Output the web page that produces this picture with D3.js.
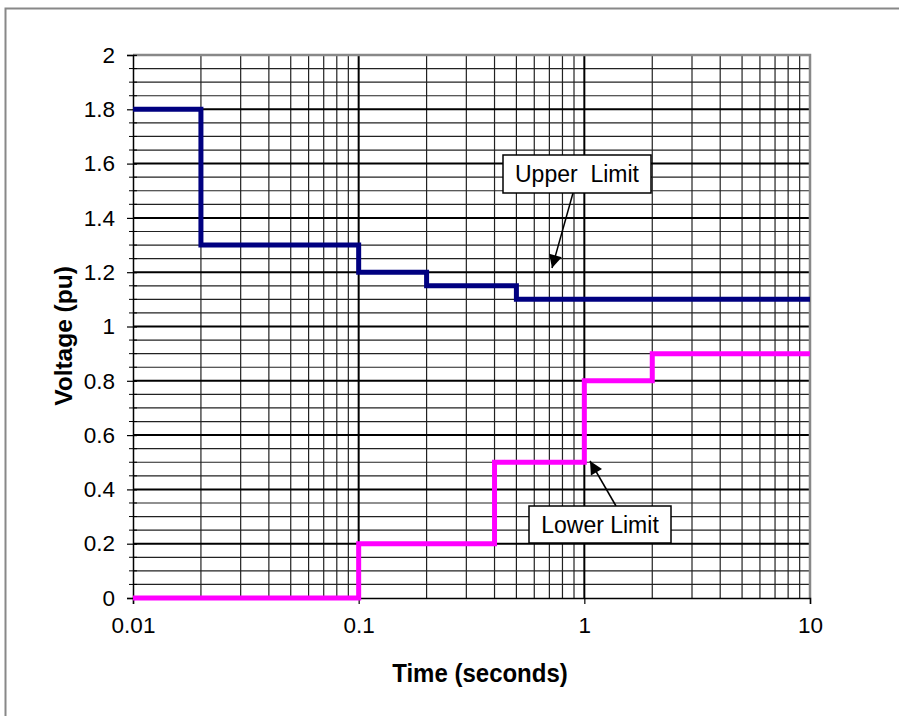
<!DOCTYPE html>
<html>
<head>
<meta charset="utf-8">
<script src="https://cdn.jsdelivr.net/npm/d3@7"></script>
<style>
  body { margin: 0; background: #fff; }
  svg { display: block; font-family: 'Liberation Sans', Arial, sans-serif; }
</style>
</head>
<body>
<svg id="chart"></svg>
<script>
// data
const upperTime = [0.01, 0.02, 0.1, 0.2, 0.5, 10]
const upperVolt = [1.8, 1.3, 1.2, 1.15, 1.1, 1.1]
const lowerTime = [0.01, 0.1, 0.4, 1, 2, 10]
const lowerVolt = [0, 0.2, 0.5, 0.8, 0.9, 0.9]
const xTicks = [0.01, 0.1, 1, 10]
const yTicks = [0, 0.2, 0.4, 0.6, 0.8, 1, 1.2, 1.4, 1.6, 1.8, 2]

const width = 899, height = 716
const margin = { top: 55, right: 89, bottom: 118, left: 133 }
const svg = d3.select('#chart').attr('width', width).attr('height', height)

// outer frame
svg.append('rect')
  .attr('x', 5.5).attr('y', 8.5)
  .attr('width', width + 20).attr('height', height + 20)
  .attr('fill', 'none').attr('stroke', '#888').attr('stroke-width', 2)

const x = d3.scaleLog().domain([0.01, 10]).range([margin.left, width - margin.right])
const y = d3.scaleLinear().domain([0, 2]).range([height - margin.bottom, margin.top])

const g = svg.append('g')

// minor grid
const minorX = []
d3.range(-2, 1).forEach(e => {
  for (let k = 2; k <= 9; k++) minorX.push(k * Math.pow(10, e))
})
const minorY = d3.range(0, 41).map(i => i * 0.05).filter(v => Math.abs(v * 5 - Math.round(v * 5)) > 1e-6)

g.append('g').selectAll('line').data(minorX).join('line')
  .attr('x1', d => x(d)).attr('x2', d => x(d))
  .attr('y1', y(0)).attr('y2', y(2))
  .attr('stroke', '#222').attr('stroke-width', 1.2)
g.append('g').selectAll('line').data(minorY).join('line')
  .attr('x1', x(0.01)).attr('x2', x(10))
  .attr('y1', d => y(d)).attr('y2', d => y(d))
  .attr('stroke', '#222').attr('stroke-width', 1.2)

// major grid
g.append('g').selectAll('line').data([0.1, 1]).join('line')
  .attr('x1', d => x(d)).attr('x2', d => x(d))
  .attr('y1', y(0)).attr('y2', y(2))
  .attr('stroke', '#000').attr('stroke-width', 2)
g.append('g').selectAll('line').data(yTicks.filter(v => v > 0 && v < 2)).join('line')
  .attr('x1', x(0.01)).attr('x2', x(10))
  .attr('y1', d => y(d)).attr('y2', d => y(d))
  .attr('stroke', '#000').attr('stroke-width', 2)

// plot border (top/right)
g.append('path')
  .attr('d', `M${x(0.01)},${y(2)}H${x(10)}V${y(0)}`)
  .attr('fill', 'none').attr('stroke', '#888').attr('stroke-width', 2.5)

// axes
const yAxis = g.append('g').attr('transform', `translate(${x(0.01)},0)`)
  .call(d3.axisLeft(y).tickValues(yTicks).tickSize(6).tickPadding(12).tickFormat(d3.format('~g')))
yAxis.append('g').selectAll('line').data(minorY).join('line')
  .attr('x1', -4).attr('x2', 4).attr('y1', d => y(d)).attr('y2', d => y(d))
  .attr('stroke', '#000')
yAxis.selectAll('.tick line').attr('x2', -6).attr('x1', 4).attr('stroke-width', 1.2)

const xAxis = g.append('g').attr('transform', `translate(0,${y(0)})`)
  .call(d3.axisBottom(x).tickValues(xTicks).tickSize(6).tickPadding(13).tickFormat(d3.format('~g')))
xAxis.selectAll('.tick line').attr('stroke-width', 1.2)

g.selectAll('.domain').attr('stroke', '#000').attr('stroke-width', 1.5)
g.selectAll('.tick text').attr('font-size', 22.5).attr('fill', '#000')
  .attr('font-family', "'Liberation Sans', Arial, sans-serif")

// series
const line = d3.line().x(d => x(d[0])).y(d => y(d[1])).curve(d3.curveStepAfter)
g.append('path').datum(d3.zip(upperTime, upperVolt))
  .attr('d', line).attr('fill', 'none').attr('stroke', '#000080').attr('stroke-width', 5)
g.append('path').datum(d3.zip(lowerTime, lowerVolt))
  .attr('d', line).attr('fill', 'none').attr('stroke', '#ff00ff').attr('stroke-width', 5)

// axis titles
svg.append('text')
  .attr('transform', 'translate(72,336) rotate(-90)')
  .attr('text-anchor', 'middle').attr('font-size', 24.5).attr('font-weight', 'bold')
  .text('Voltage (pu)')
svg.append('text')
  .attr('transform', 'translate(480,682) scale(1,1.1)')
  .attr('text-anchor', 'middle').attr('font-size', 24).attr('font-weight', 'bold')
  .text('Time (seconds)')

// annotations
svg.append('defs').append('marker')
  .attr('id', 'arrow').attr('viewBox', '0 0 10 10')
  .attr('refX', 10).attr('refY', 5)
  .attr('markerWidth', 15).attr('markerHeight', 13)
  .attr('markerUnits', 'userSpaceOnUse')
  .attr('orient', 'auto')
  .append('path').attr('d', 'M0,0L10,5L0,10z').attr('fill', '#000')

function callout (label, bx, by, bw, bh, x1, y1, x2, y2) {
  svg.append('line')
    .attr('x1', x1).attr('y1', y1).attr('x2', x2).attr('y2', y2)
    .attr('stroke', '#000').attr('stroke-width', 1.5)
    .attr('marker-end', 'url(#arrow)')
  svg.append('rect')
    .attr('x', bx).attr('y', by).attr('width', bw).attr('height', bh)
    .attr('fill', '#fff').attr('stroke', '#000').attr('stroke-width', 1.5)
  svg.append('text')
    .attr('x', bx + bw / 2).attr('y', by + bh / 2 + 8)
    .attr('text-anchor', 'middle').attr('font-size', 23)
    .style('white-space', 'pre')
    .text(label)
}
callout('Upper  Limit', 503, 155, 148, 38, 573, 193, 552, 268)
callout('Lower Limit', 529, 506, 142, 37, 616, 506, 590, 461)
</script>
</body>
</html>
